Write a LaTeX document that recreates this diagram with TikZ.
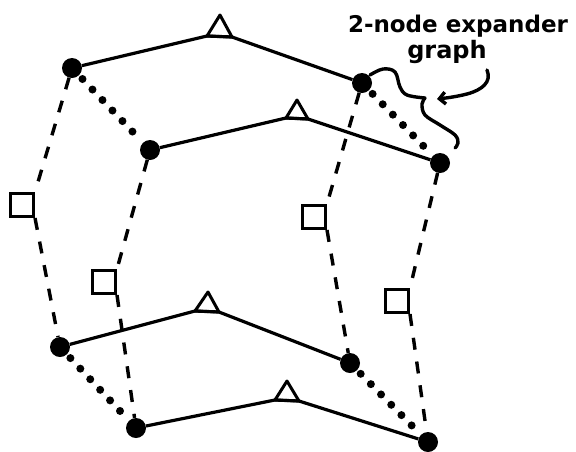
\documentclass[tikz,border=0pt]{standalone}
\usepackage{fontspec}
\setmainfont{DejaVu Sans}
\usetikzlibrary{arrows.meta}
\begin{document}
\begin{tikzpicture}[x=1pt,y=-1pt,
  vtx/.style={circle,fill=black,inner sep=0pt,minimum size=20pt},
  solidedge/.style={line width=3.2pt,line join=round},
  dashededge/.style={line width=3.4pt,dash pattern=on 12pt off 12pt},
  dotedge/.style={line width=8pt,line cap=round,dash pattern=on 0pt off 14.5pt,shorten <=5pt,shorten >=2pt},
  sqbox/.style={draw,line width=3pt,inner sep=0pt,minimum size=23pt,anchor=east},
  trishape/.style={line width=3pt,line join=round},
  handtext/.style={inner sep=0pt,anchor=base},
  curl/.style={line width=3.4pt,line cap=round}
]
\useasboundingbox (0,0) rectangle (576,451);

% vertices
\node[vtx] (A) at (72,68) {};
\node[vtx] (B) at (150,150) {};
\node[vtx] (C) at (362,83) {};
\node[vtx] (D) at (440,163) {};
\node[vtx] (E) at (60,347) {};
\node[vtx] (F) at (136,428) {};
\node[vtx] (G) at (350,363) {};
\node[vtx] (H) at (428,442) {};

% triangle points
\coordinate (t1l) at (207,36); \coordinate (t1a) at (220,15); \coordinate (t1r) at (232,37);
\coordinate (t2l) at (286,118); \coordinate (t2a) at (297,100); \coordinate (t2r) at (308,119);
\coordinate (t3l) at (195,311); \coordinate (t3a) at (208,292); \coordinate (t3r) at (219,312);
\coordinate (t4l) at (275,400); \coordinate (t4a) at (287,381); \coordinate (t4r) at (299,401);

% solid edges with triangles
\draw[solidedge] (A) -- (t1l) -- (t1r) -- (C);
\draw[trishape] (t1l) -- (t1a) -- (t1r) -- cycle;
\draw[solidedge] (B) -- (t2l) -- (t2r) -- (D);
\draw[trishape] (t2l) -- (t2a) -- (t2r) -- cycle;
\draw[solidedge] (E) -- (t3l) -- (t3r) -- (G);
\draw[trishape] (t3l) -- (t3a) -- (t3r) -- cycle;
\draw[solidedge] (F) -- (t4l) -- (t4r) -- (H);
\draw[trishape] (t4l) -- (t4a) -- (t4r) -- cycle;

% squares
\node[sqbox] (s1) at (35,205) {};
\node[sqbox] (s2) at (117,282) {};
\node[sqbox] (s3) at (327,217) {};
\node[sqbox] (s4) at (410,301) {};

% dashed edges
\draw[dashededge] (A) -- (s1.north east);
\draw[dashededge] (s1.south east) -- (E);
\draw[dashededge] (B) -- (s2.north east);
\draw[dashededge] (s2.south east) -- (F);
\draw[dashededge] (C) -- (s3.north east);
\draw[dashededge] (s3.south east) -- (G);
\draw[dashededge] (D) -- (s4.north east);
\draw[dashededge] (s4.south east) -- (H);

% dotted edges
\draw[dotedge] (A) -- (B);
\draw[dotedge] (C) -- (D);
\draw[dotedge] (E) -- (F);
\draw[dotedge] (G) -- (H);

% label
\node[handtext] (lbl1) at (458,32) {\fontsize{23}{23}\selectfont\bfseries 2-node expander};
\node[handtext] (lbl2) at (447,58) {\fontsize{24}{24}\selectfont\bfseries graph};

% squiggle brace
\draw[curl] plot[smooth,tension=0.6] coordinates {(370,75) (383,69) (395,72) (400,87) (407,95) (425,98)};
\draw[curl] plot[smooth,tension=0.6] coordinates {(425,98) (422,104) (425,115) (440,125) (455,135) (458,143) (455,148)};

% arrow
\coordinate (arS) at (487,70);
\coordinate (arE) at (437,99);
\draw[curl,-{Straight Barb[length=6pt,width=12pt]}] (arS) .. controls (492,82) and (482,90) .. (467,94) .. controls (455,97) and (446,98) .. (arE);
\end{tikzpicture}
\end{document}
